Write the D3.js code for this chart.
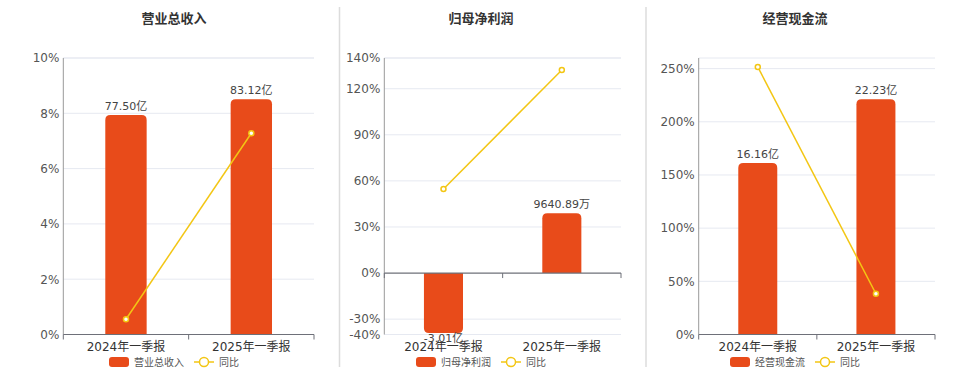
<!DOCTYPE html>
<html lang="zh">
<head>
<meta charset="UTF-8" />
<title>营业总收入 / 归母净利润 / 经营现金流</title>
<script src="https://d3js.org/d3.v7.min.js"></script>
<style>
  body { margin: 0; background: #fff; }
  svg text { font-family: "DejaVu Sans", "Noto Sans CJK SC", sans-serif; }
</style>
</head>
<body>
<div id="chart"></div>
<script>
const categories = ['2024年一季报', '2025年一季报']
const titles = ['营业总收入', '归母净利润', '经营现金流']

const revenue = [77.5, 83.12]
const revenueLabels = ['77.50亿', '83.12亿']
const revenueYoy = [0.55, 7.28]
const revenueTicks = [0, 2, 4, 6, 8, 10]

const profit = [-3.01, 0.9641]
const profitLabels = ['-3.01亿', '9640.89万']
const profitYoy = [54.7, 132.2]
const profitTicks = [-40, -30, 0, 30, 60, 90, 120, 140]

const cash = [16.16, 22.23]
const cashLabels = ['16.16亿', '22.23亿']
const cashYoy = [251.6, 38.3]
const cashTicks = [0, 50, 100, 150, 200, 250]

const barColor = '#e84b1a'
const lineColor = '#f3c614'

const width = 960
const height = 372
const plotTop = 58
const plotBottom = 334.5

const svg = d3.select('#chart').append('svg')
  .attr('width', width)
  .attr('height', height)

// panel separators
svg.selectAll('.sep')
  .data([339.5, 646])
  .enter()
  .append('line')
  .attr('x1', d => d).attr('x2', d => d)
  .attr('y1', 7).attr('y2', 367)
  .attr('stroke', '#dcdcdc')
  .attr('stroke-width', 1.5)

const panels = [
  { title: titles[0], cx: 174, left: 63.3, right: 314, bars: revenue, labels: revenueLabels, yoy: revenueYoy,
    ticks: revenueTicks, pctDomain: [0, 10], barDomain: [0, d3.max(revenue) / 0.85] },
  { title: titles[1], cx: 481, left: 384.3, right: 621, bars: profit, labels: profitLabels, yoy: profitYoy,
    ticks: profitTicks, pctDomain: [-40, 140], barDomain: [-0.99, 3.5] },
  { title: titles[2], cx: 795, left: 698.7, right: 935, bars: cash, labels: cashLabels, yoy: cashYoy,
    ticks: cashTicks, pctDomain: [0, 260], barDomain: [0, d3.max(cash) / 0.85] },
]

function barPath(x, w, y0, y1, r) {
  const h = Math.abs(y1 - y0)
  r = Math.min(r, h / 2, w / 2)
  const s = y1 < y0 ? 1 : -1
  return `M${x},${y0}V${y1 + s * r}Q${x},${y1} ${x + r},${y1}H${x + w - r}Q${x + w},${y1} ${x + w},${y1 + s * r}V${y0}Z`
}

panels.forEach(p => {
  const g = svg.append('g')

  const x = d3.scaleBand().domain(categories).range([p.left, p.right])
  const y = d3.scaleLinear().domain(p.pctDomain).range([plotBottom, plotTop])
  const yBar = d3.scaleLinear().domain(p.barDomain).range([plotBottom - 1.5, plotTop]).clamp(true)
  const bw = x.bandwidth() * 0.33

  // title
  g.append('text')
    .attr('x', p.cx).attr('y', 23)
    .attr('text-anchor', 'middle')
    .attr('font-size', 13)
    .attr('font-weight', 'bold')
    .attr('fill', '#333')
    .text(p.title)

  // grid lines
  g.selectAll('.grid')
    .data(p.ticks.concat([p.pctDomain[1]]).filter(d => d !== 0))
    .enter()
    .append('line')
    .attr('x1', p.left).attr('x2', p.right)
    .attr('y1', d => y(d)).attr('y2', d => y(d))
    .attr('stroke', '#e6e9f1')
    .attr('stroke-width', 1)

  // y axis labels
  const yAxis = g.append('g')
    .attr('transform', `translate(${p.left},0)`)
    .call(d3.axisLeft(y).tickValues(p.ticks).tickSize(0).tickPadding(4).tickFormat(d => d + '%'))
  yAxis.select('.domain').remove()
  yAxis.selectAll('text').attr('font-size', 12).attr('fill', '#555').attr('font-family', null)

  g.append('line')
    .attr('x1', p.left).attr('x2', p.left)
    .attr('y1', plotTop).attr('y2', plotBottom)
    .attr('stroke', '#999')

  // bars (zero of the bar scale sits on the zero of the percent axis)
  const barZero = y(0)
  g.selectAll('.bar')
    .data(p.bars)
    .enter()
    .append('path')
    .attr('fill', barColor)
    .attr('d', (d, i) => barPath(x(categories[i]) + (x.bandwidth() - bw) / 2, bw, barZero, yBar(d), 5))

  g.selectAll('.bar-label')
    .data(p.bars)
    .enter()
    .append('text')
    .attr('x', (d, i) => x(categories[i]) + x.bandwidth() / 2)
    .attr('y', d => d >= 0 ? yBar(d) - 5 : yBar(d) + 8.5)
    .attr('text-anchor', 'middle')
    .attr('font-size', 11)
    .attr('fill', '#444')
    .text((d, i) => p.labels[i])

  // zero axis line + ticks
  const y0 = y(0)
  g.append('line')
    .attr('x1', p.left).attr('x2', p.right)
    .attr('y1', y0).attr('y2', y0)
    .attr('stroke', '#6e7079')
    .attr('stroke-width', 1.2)
  g.selectAll('.xtick')
    .data([p.left, p.left + x.bandwidth(), p.right])
    .enter()
    .append('line')
    .attr('x1', d => d).attr('x2', d => d)
    .attr('y1', y0).attr('y2', y0 + 5)
    .attr('stroke', '#6e7079')

  // x labels
  const xAxis = g.append('g')
    .attr('transform', `translate(0,${plotBottom})`)
    .call(d3.axisBottom(x).tickSize(0).tickPadding(8))
  xAxis.select('.domain').remove()
  xAxis.selectAll('text').attr('font-size', 12).attr('fill', '#333').attr('font-family', null)

  // yoy line
  const line = d3.line()
    .x((d, i) => x(categories[i]) + x.bandwidth() / 2)
    .y(d => y(d))
  g.append('path')
    .datum(p.yoy)
    .attr('d', line)
    .attr('fill', 'none')
    .attr('stroke', lineColor)
    .attr('stroke-width', 1.5)
  g.selectAll('.pt')
    .data(p.yoy)
    .enter()
    .append('circle')
    .attr('cx', (d, i) => x(categories[i]) + x.bandwidth() / 2)
    .attr('cy', d => y(d))
    .attr('r', 2.5)
    .attr('fill', '#fff')
    .attr('stroke', lineColor)
    .attr('stroke-width', 1.5)

  // legend
  const lg = g.append('g')
  lg.append('rect')
    .attr('x', 0).attr('y', -5).attr('width', 20).attr('height', 10).attr('rx', 3)
    .attr('fill', barColor)
  const t1 = lg.append('text')
    .attr('x', 25).attr('y', 0).attr('dy', '0.35em')
    .attr('font-size', 10).attr('fill', '#555')
    .text(p.title)
  const w1 = t1.node().getComputedTextLength()
  const lx = 25 + w1 + 10
  lg.append('line')
    .attr('x1', lx).attr('x2', lx + 20).attr('y1', 0).attr('y2', 0)
    .attr('stroke', lineColor).attr('stroke-width', 1.5)
  lg.append('circle')
    .attr('cx', lx + 10).attr('cy', 0).attr('r', 4.5)
    .attr('fill', '#fff').attr('stroke', lineColor).attr('stroke-width', 1.5)
  const t2 = lg.append('text')
    .attr('x', lx + 25).attr('y', 0).attr('dy', '0.35em')
    .attr('font-size', 10).attr('fill', '#555')
    .text('同比')
  const total = lx + 25 + t2.node().getComputedTextLength()
  lg.attr('transform', `translate(${p.cx - total / 2},362)`)
})
</script>
</body>
</html>
